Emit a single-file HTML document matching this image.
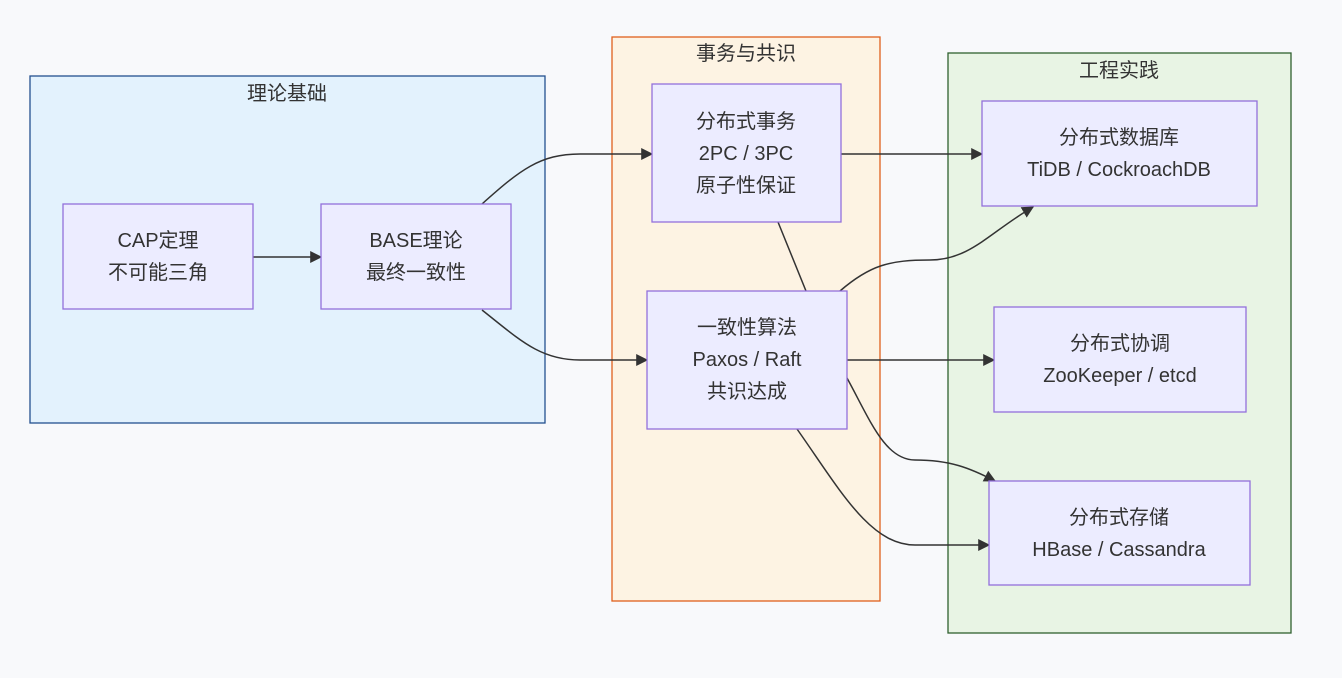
<!DOCTYPE html>
<html><head><meta charset="utf-8"><style>
html,body{margin:0;padding:0;background:#f8f9fb;}
svg{display:block;}
text{font-family:"Liberation Sans","Noto Sans CJK SC",sans-serif;font-size:20px;fill:#333;text-anchor:middle;}
.n{fill:#ECECFF;stroke:#9370DB;stroke-width:1.3;}
.e{fill:none;stroke:#333;stroke-width:1.5;}
</style></head><body>
<svg width="1342" height="678" viewBox="0 0 1342 678">
<defs><marker id="a" viewBox="0 0 10 10" refX="9" refY="5" markerWidth="8" markerHeight="8" orient="auto"><path d="M0,0L10,5L0,10z" fill="#333"/></marker></defs>
<rect x="0" y="0" width="1342" height="678" fill="#f8f9fb"/>
<rect x="30" y="76" width="515" height="347" fill="#e3f2fd" stroke="#24508f" stroke-width="1.3"/>
<text x="287" y="100">理论基础</text>
<rect x="612" y="37" width="268" height="564" fill="#fdf3e3" stroke="#e0601c" stroke-width="1.3"/>
<text x="746" y="60">事务与共识</text>
<rect x="948" y="53" width="343" height="580" fill="#e8f4e4" stroke="#2f602f" stroke-width="1.3"/>
<text x="1119" y="77">工程实践</text>

<path class="e" d="M253,257L321,257" marker-end="url(#a)"/>
<path class="e" d="M482,204C520,170 540,154 580,154L652,154" marker-end="url(#a)"/>
<path class="e" d="M482,310C520,340 540,360 580,360L647,360" marker-end="url(#a)"/>
<path class="e" d="M841,154L982,154" marker-end="url(#a)"/>
<path class="e" d="M778,222L806,291"/>
<path class="e" d="M840,291C870,265 890,260 930,260C970,260 990,232 1033,207" marker-end="url(#a)"/>
<path class="e" d="M847,360L994,360" marker-end="url(#a)"/>
<path class="e" d="M847,378C870,420 885,460 915,460C950,460 970,468 995,481" marker-end="url(#a)"/>
<path class="e" d="M797,429C840,490 870,545 915,545L989,545" marker-end="url(#a)"/>

<rect class="n" x="63" y="204" width="190" height="105"/>
<text x="158" y="247">CAP定理</text><text x="158" y="279">不可能三角</text>
<rect class="n" x="321" y="204" width="190" height="105"/>
<text x="416" y="247">BASE理论</text><text x="416" y="279">最终一致性</text>
<rect class="n" x="652" y="84" width="189" height="138"/>
<text x="746" y="128">分布式事务</text><text x="746" y="160">2PC / 3PC</text><text x="746" y="192">原子性保证</text>
<rect class="n" x="647" y="291" width="200" height="138"/>
<text x="747" y="334">一致性算法</text><text x="747" y="366">Paxos / Raft</text><text x="747" y="398">共识达成</text>
<rect class="n" x="982" y="101" width="275" height="105"/>
<text x="1119" y="144">分布式数据库</text><text x="1119" y="176">TiDB / CockroachDB</text>
<rect class="n" x="994" y="307" width="252" height="105"/>
<text x="1120" y="350">分布式协调</text><text x="1120" y="382">ZooKeeper / etcd</text>
<rect class="n" x="989" y="481" width="261" height="104"/>
<text x="1119" y="524">分布式存储</text><text x="1119" y="556">HBase / Cassandra</text>
</svg>
</body></html>
